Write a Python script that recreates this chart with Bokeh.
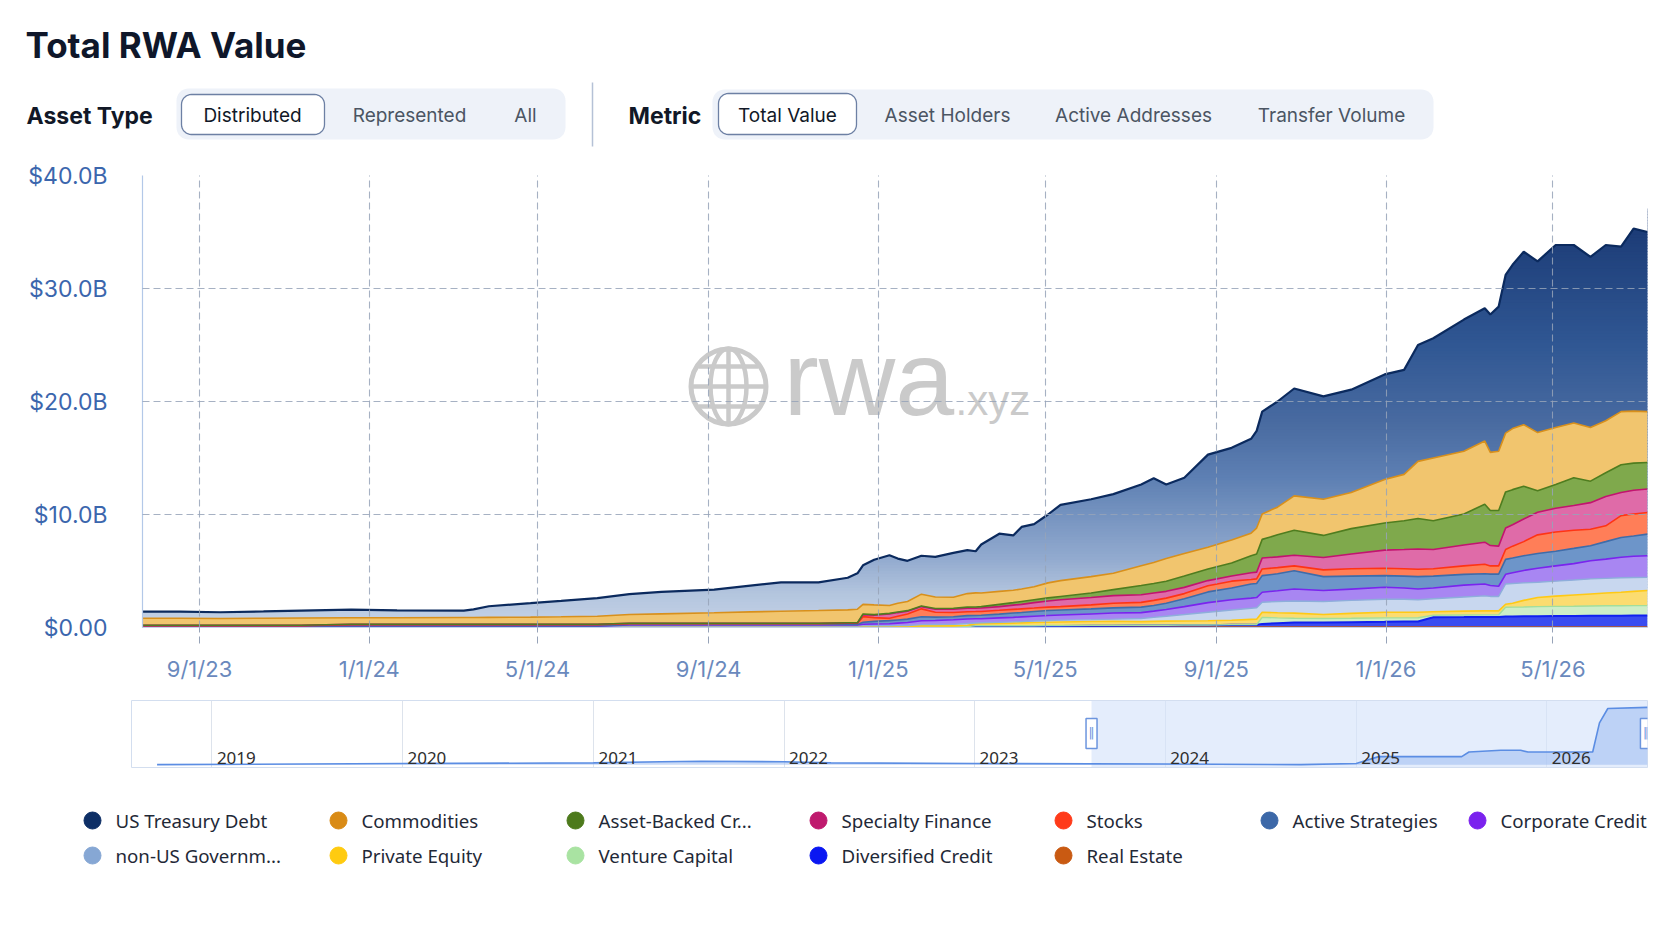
import numpy as np
import pandas as pd
from bokeh.plotting import figure
from bokeh.layouts import column
from bokeh.models import ColumnDataSource, Range1d, FixedTicker, BoxAnnotation, Grid
from bokeh.core.properties import value
from bokeh.embed import file_html
from bokeh.resources import INLINE

# ---------------- data ($B) ----------------
dates = [
    "2023-07-22", "2023-08-18", "2023-09-16", "2023-10-17", "2023-11-13", "2023-12-19",
    "2024-01-21", "2024-03-09", "2024-03-16", "2024-03-27", "2024-04-26", "2024-05-18",
    "2024-06-13", "2024-07-06", "2024-07-29", "2024-09-05", "2024-10-01", "2024-10-23",
    "2024-11-19", "2024-12-10", "2024-12-17", "2024-12-21", "2024-12-29", "2025-01-09",
    "2025-01-15", "2025-01-22", "2025-02-01", "2025-02-11", "2025-02-24", "2025-03-06",
    "2025-03-12", "2025-03-16", "2025-03-29", "2025-04-08", "2025-04-14", "2025-04-23",
    "2025-05-03", "2025-05-12", "2025-06-03", "2025-06-19", "2025-07-09", "2025-07-18",
    "2025-07-27", "2025-08-09", "2025-08-26", "2025-09-12", "2025-09-26", "2025-09-30",
    "2025-10-04", "2025-10-15", "2025-10-27", "2025-11-17", "2025-12-07", "2025-12-31",
    "2026-01-14", "2026-01-24", "2026-02-04", "2026-02-26", "2026-03-13", "2026-03-17",
    "2026-03-23", "2026-03-28", "2026-04-02", "2026-04-10", "2026-04-20", "2026-05-03",
    "2026-05-16", "2026-05-28", "2026-06-08", "2026-06-19", "2026-06-28", "2026-07-08",
]

series_names = ["US Treasury Debt", "Commodities", "Asset-Backed Credit", "Specialty Finance",
                "Stocks", "Active Strategies", "Corporate Credit", "non-US Government Debt",
                "Private Equity", "Venture Capital", "Diversified Credit", "Real Estate"]
legend_labels = ["US Treasury Debt", "Commodities", "Asset-Backed Cr...", "Specialty Finance",
                 "Stocks", "Active Strategies", "Corporate Credit", "non-US Governm...",
                 "Private Equity", "Venture Capital", "Diversified Credit", "Real Estate"]

us_treasury_debt = [
    0.59, 0.59, 0.55, 0.60, 0.66, 0.72, 0.66, 0.62, 0.72, 0.98,
    1.23, 1.40, 1.60, 1.80, 1.94, 2.05, 2.32, 2.56, 2.50, 2.84,
    3.18, 3.45, 4.00, 4.45, 3.95, 3.60, 3.40, 3.55, 3.92, 3.85,
    3.69, 4.30, 5.10, 4.85, 5.50, 5.55, 6.05, 6.70, 6.85, 7.00,
    7.18, 7.45, 6.55, 6.70, 8.20, 8.15, 8.35, 8.60, 9.05, 9.35,
    9.50, 9.10, 9.10, 9.30, 9.25, 10.30, 10.60, 11.65, 11.75, 12.20,
    12.80, 14.00, 14.50, 15.30, 15.15, 16.15, 15.75, 15.10, 15.55, 14.60, 16.15, 15.90]
commodities = [
    0.62, 0.62, 0.60, 0.62, 0.64, 0.57, 0.57, 0.59, 0.59, 0.61,
    0.63, 0.66, 0.71, 0.77, 0.83, 0.92, 1.00, 1.06, 1.12, 1.14,
    1.20, 0.86, 0.86, 0.70, 0.78, 0.81, 1.05, 1.02, 0.98, 1.20,
    1.24, 1.20, 1.15, 1.10, 1.10, 1.15, 1.33, 1.40, 1.45, 1.45,
    1.76, 1.85, 2.00, 2.00, 1.92, 2.05, 2.00, 2.30, 2.25, 2.45,
    3.05, 3.20, 3.20, 3.85, 4.10, 5.05, 5.55, 5.55, 5.60, 5.15,
    5.25, 5.20, 5.40, 5.45, 5.15, 5.05, 4.85, 4.75, 4.60, 4.70, 4.60, 4.50]
asset_backed_credit = [
    0.01, 0.01, 0.01, 0.01, 0.01, 0.01, 0.01, 0.01, 0.01, 0.01,
    0.01, 0.01, 0.01, 0.01, 0.01, 0.01, 0.01, 0.01, 0.01, 0.02,
    0.02, 0.05, 0.05, 0.05, 0.05, 0.05, 0.05, 0.06, 0.08, 0.10,
    0.11, 0.13, 0.20, 0.22, 0.25, 0.25, 0.27, 0.30, 0.40, 0.53,
    0.81, 0.85, 0.90, 1.00, 1.03, 1.15, 1.50, 1.60, 1.65, 1.95,
    2.20, 1.95, 2.25, 2.40, 2.55, 2.70, 2.55, 2.75, 3.35, 3.10,
    3.15, 3.20, 3.10, 2.90, 1.90, 2.10, 2.45, 1.90, 2.10, 2.45, 2.40, 2.35]
specialty_finance = [
    0.03, 0.03, 0.03, 0.03, 0.03, 0.03, 0.03, 0.03, 0.03, 0.03,
    0.03, 0.03, 0.03, 0.04, 0.04, 0.04, 0.04, 0.04, 0.04, 0.03,
    0.03, 0.18, 0.22, 0.39, 0.33, 0.25, 0.20, 0.27, 0.29, 0.30,
    0.30, 0.30, 0.33, 0.38, 0.40, 0.48, 0.55, 0.60, 0.65, 0.67,
    0.68, 0.65, 0.60, 0.55, 0.45, 0.45, 0.60, 0.60, 0.97, 0.95,
    0.95, 1.10, 1.30, 1.60, 1.70, 1.80, 1.70, 1.85, 1.95, 1.80,
    1.75, 1.90, 1.90, 2.00, 2.00, 2.10, 2.20, 2.35, 2.60, 2.05, 2.10, 2.07]
stocks = [
    0.02, 0.02, 0.02, 0.02, 0.02, 0.11, 0.11, 0.11, 0.11, 0.11,
    0.11, 0.11, 0.11, 0.07, 0.07, 0.07, 0.07, 0.07, 0.07, 0.10,
    0.10, 0.50, 0.33, 0.20, 0.32, 0.45, 0.70, 0.43, 0.38, 0.35,
    0.35, 0.34, 0.34, 0.32, 0.32, 0.30, 0.30, 0.30, 0.35, 0.41,
    0.42, 0.45, 0.45, 0.45, 0.55, 0.60, 0.40, 0.40, 0.59, 0.55,
    0.42, 0.60, 0.65, 0.66, 0.65, 0.65, 0.65, 0.75, 0.85, 0.73,
    0.73, 0.87, 1.05, 1.25, 1.65, 1.70, 1.60, 1.46, 1.40, 1.93, 1.95, 1.92]
active_strategies = [
    0.02, 0.02, 0.02, 0.02, 0.02, 0.02, 0.02, 0.02, 0.02, 0.02,
    0.02, 0.02, 0.02, 0.04, 0.04, 0.04, 0.04, 0.04, 0.04, 0.05,
    0.05, 0.17, 0.23, 0.28, 0.28, 0.30, 0.35, 0.30, 0.27, 0.30,
    0.29, 0.30, 0.33, 0.38, 0.39, 0.42, 0.44, 0.45, 0.45, 0.46,
    0.48, 0.50, 0.55, 0.70, 0.95, 1.05, 1.25, 1.25, 1.47, 1.50,
    1.62, 1.23, 1.15, 1.03, 1.05, 1.09, 1.05, 0.95, 0.90, 1.01,
    1.07, 1.32, 1.30, 1.30, 1.30, 1.30, 1.35, 1.33, 1.55, 1.76, 1.80, 1.91]
corporate_credit = [
    0.02, 0.02, 0.02, 0.02, 0.02, 0.02, 0.02, 0.02, 0.02, 0.02,
    0.02, 0.02, 0.02, 0.10, 0.10, 0.10, 0.10, 0.10, 0.10, 0.10,
    0.10, 0.15, 0.16, 0.17, 0.22, 0.26, 0.35, 0.36, 0.40, 0.40,
    0.37, 0.36, 0.39, 0.40, 0.41, 0.42, 0.44, 0.45, 0.50, 0.54,
    0.52, 0.55, 0.60, 0.70, 0.85, 0.90, 0.90, 0.90, 0.88, 0.95,
    1.06, 0.97, 1.00, 1.06, 1.00, 0.96, 0.95, 1.05, 1.05, 0.96,
    0.90, 0.86, 0.95, 1.10, 1.25, 1.35, 1.45, 1.61, 1.70, 1.81, 1.88, 1.91]
non_us_government_debt = [
    0.02, 0.02, 0.02, 0.02, 0.02, 0.02, 0.02, 0.02, 0.02, 0.02,
    0.02, 0.02, 0.02, 0.03, 0.03, 0.03, 0.03, 0.03, 0.03, 0.03,
    0.03, 0.05, 0.06, 0.07, 0.08, 0.09, 0.11, 0.12, 0.14, 0.15,
    0.08, 0.09, 0.10, 0.11, 0.12, 0.14, 0.15, 0.16, 0.17, 0.19,
    0.28, 0.36, 0.44, 0.57, 0.75, 0.91, 0.98, 1.01, 0.89, 1.00,
    1.08, 1.15, 1.15, 1.15, 1.15, 1.10, 1.15, 1.25, 1.33, 1.28,
    1.28, 1.79, 1.75, 1.55, 1.35, 1.32, 1.32, 1.33, 1.30, 1.28, 1.22, 1.17]
private_equity = [
    0.02, 0.02, 0.02, 0.02, 0.02, 0.02, 0.02, 0.02, 0.02, 0.02,
    0.02, 0.02, 0.02, 0.03, 0.03, 0.03, 0.03, 0.03, 0.03, 0.03,
    0.03, 0.03, 0.03, 0.03, 0.03, 0.03, 0.05, 0.05, 0.05, 0.11,
    0.17, 0.18, 0.20, 0.23, 0.25, 0.28, 0.29, 0.31, 0.34, 0.36,
    0.32, 0.34, 0.36, 0.36, 0.38, 0.39, 0.45, 0.47, 0.45, 0.45,
    0.45, 0.35, 0.43, 0.50, 0.50, 0.49, 0.32, 0.35, 0.35, 0.35,
    0.35, 0.27, 0.35, 0.58, 0.80, 0.91, 1.00, 1.07, 1.13, 1.19, 1.26, 1.33]
venture_capital = [
    0.01, 0.01, 0.01, 0.01, 0.01, 0.01, 0.01, 0.01, 0.01, 0.01,
    0.01, 0.01, 0.01, 0.01, 0.01, 0.01, 0.01, 0.01, 0.01, 0.01,
    0.01, 0.01, 0.01, 0.01, 0.01, 0.01, 0.02, 0.02, 0.02, 0.02,
    0.05, 0.05, 0.05, 0.05, 0.05, 0.05, 0.04, 0.04, 0.04, 0.04,
    0.03, 0.03, 0.03, 0.02, 0.02, 0.01, 0.02, 0.02, 0.58, 0.47,
    0.38, 0.35, 0.35, 0.35, 0.33, 0.33, 0.17, 0.18, 0.19, 0.19,
    0.19, 0.82, 0.82, 0.83, 0.85, 0.86, 0.86, 0.87, 0.88, 0.88, 0.88, 0.88]
diversified_credit = [
    0.02, 0.02, 0.02, 0.02, 0.02, 0.02, 0.02, 0.02, 0.02, 0.02,
    0.02, 0.02, 0.02, 0.02, 0.02, 0.02, 0.02, 0.02, 0.02, 0.02,
    0.02, 0.02, 0.02, 0.02, 0.02, 0.02, 0.04, 0.04, 0.04, 0.04,
    0.05, 0.05, 0.06, 0.06, 0.06, 0.06, 0.09, 0.09, 0.10, 0.10,
    0.12, 0.12, 0.12, 0.15, 0.15, 0.19, 0.20, 0.20, 0.27, 0.33,
    0.39, 0.40, 0.42, 0.45, 0.47, 0.48, 0.86, 0.87, 0.88, 0.88,
    0.88, 0.92, 0.93, 0.94, 0.95, 0.96, 0.97, 0.98, 0.99, 1.00, 1.01, 1.01]
real_estate = [0.03] * 30 + [0.05] * 42

y_ticks = [0, 10, 20, 30, 40]
y_tick_labels = ["$0.00", "$10.0B", "$20.0B", "$30.0B", "$40.0B"]
x_tick_dates = ["2023-09-01", "2024-01-01", "2024-05-01", "2024-09-01", "2025-01-01",
                "2025-05-01", "2025-09-01", "2026-01-01", "2026-05-01"]
x_tick_labels = ["9/1/23", "1/1/24", "5/1/24", "9/1/24", "1/1/25", "5/1/25", "9/1/25", "1/1/26", "5/1/26"]

# navigator (overview) series
nav_dates = ["2018-09-18", "2020-01-01", "2021-01-01", "2021-05-10", "2021-07-26", "2022-01-01",
             "2022-04-01", "2023-01-01", "2024-01-01", "2024-09-17", "2025-01-01", "2025-02-13",
             "2025-07-22", "2025-08-05", "2025-10-05", "2025-11-12", "2025-11-26", "2026-03-30",
             "2026-04-12", "2026-04-28", "2026-07-13"]
nav_values = [0.0, 0.02, 0.03, 0.05, 0.06, 0.05, 0.03, 0.02, 0.01, 0.0, 0.02, 0.14,
              0.14, 0.22, 0.25, 0.25, 0.22, 0.22, 0.73, 0.98, 1.0]
nav_year_dates = ["2019-01-01", "2020-01-01", "2021-01-01", "2022-01-01", "2023-01-01",
                  "2024-01-01", "2025-01-01", "2026-01-01"]
nav_year_labels = ["2019", "2020", "2021", "2022", "2023", "2024", "2025", "2026"]
selected_range = ["2023-08-13", "2026-07-10"]

asset_type_options = ["Distributed", "Represented", "All"]
metric_options = ["Total Value", "Asset Holders", "Active Addresses", "Transfer Volume"]

# ---------------- styles ----------------
W = 1672
FONT = "Inter"
series_colors = ["#0e2f66", "#d98b16", "#4d7a1c", "#bf1a6e", "#ff3b1a", "#3c68a8",
                 "#7b22ee", "#86a7d4", "#ffcb10", "#a9e3a2", "#0a17f2", "#c95a12"]
fill_colors = ["#2f5692", "#f1c56e", "#7fa94c", "#df6ba8", "#ff7e58", "#6d95c9",
               "#a886f2", "#c8d7ef", "#fbdc70", "#cdeec8", "#3a4cf0", "#d9823e"]
line_colors = ["#0b2a5e", "#d8901c", "#4f7d1f", "#c2146f", "#ff3414", "#3f6ca9",
               "#7a24ee", "#8eaedb", "#ffc915", "#a3de9c", "#1020f0", "#c55a15"]
line_widths = [2.2, 1.6, 1.6, 1.6, 1.6, 1.6, 1.6, 1.4, 1.6, 1.4, 2.0, 1.4]
GRID = "#97a3b8"

EPOCH = pd.Timestamp("1970-01-01")
DAY = 86400000.0


def to_ms(d):
    return float((pd.Timestamp(d) - EPOCH) / pd.Timedelta(milliseconds=1))


keys = ["ust", "com", "abc", "sf", "st", "act", "cc", "nug", "pe", "vc", "dc", "re"]
arrays = [us_treasury_debt, commodities, asset_backed_credit, specialty_finance, stocks,
          active_strategies, corporate_credit, non_us_government_debt, private_equity,
          venture_capital, diversified_credit, real_estate]
data = {"date": pd.to_datetime(dates)}
for k, arr in zip(keys, arrays):
    data[k] = arr
src = ColumnDataSource(data)

bottom_up = keys[::-1]
fills_bu = fill_colors[::-1]
lines_bu = line_colors[::-1]
widths_bu = line_widths[::-1]

# ---------------- main chart ----------------
X0, X1 = dates[0], dates[-1]
x0_ms, x1_ms = to_ms(X0), to_ms(X1)
p = figure(width=W, height=540, x_axis_type="datetime",
           x_range=Range1d(x0_ms, x1_ms), y_range=Range1d(0, 40),
           toolbar_location=None, output_backend="svg",
           min_border_left=142, min_border_right=25, min_border_top=25, min_border_bottom=63,
           background_fill_color="white", border_fill_color="white")
p.outline_line_color = None
p.frame_align = False

# vertical colour gradient used for the top (US Treasury) area
stops = [(0, "#c6d3e7"), (3, "#b3c5de"), (6, "#93abcf"), (13, "#5f81b4"), (18, "#496ba1"),
         (25, "#305793"), (35, "#1d3d78"), (40, "#17346c")]


def _rgb(h):
    return [int(h[i:i + 2], 16) for i in (1, 3, 5)]


def grad(v):
    for (v0, c0), (v1, c1) in zip(stops[:-1], stops[1:]):
        if v0 <= v <= v1:
            t = (v - v0) / (v1 - v0)
            a, b = _rgb(c0), _rgb(c1)
            return "#%02x%02x%02x" % tuple(int(round(a[i] + (b[i] - a[i]) * t)) for i in range(3))
    return stops[-1][1]


band_lo = np.arange(0, 37, 0.25)
p.quad(left=x0_ms - 5 * DAY, right=x1_ms + 5 * DAY, bottom=band_lo, top=band_lo + 0.32,
       fill_color=[grad(b + 0.125) for b in band_lo], line_color=None)

# stacked layers below the treasury layer
p.varea_stack(stackers=bottom_up[:-1], x="date", color=fills_bu[:-1], source=src)

# everything above the stacked total is white (polygon reaches past the frame edges)
total = np.sum(np.array(arrays, dtype=float), axis=0)
date_ms = [to_ms(d) for d in dates]
cover_x = [x0_ms - 20 * DAY] + date_ms + [x1_ms + 20 * DAY, x1_ms + 20 * DAY, x0_ms - 20 * DAY]
cover_y = [total[0]] + list(total) + [total[-1], 45, 45]
p.patch(cover_x, cover_y, fill_color="white", line_color=None)

# watermark
PXD = (1647 - 142) / ((x1_ms - x0_ms) / DAY)


def mx(px):
    return x0_ms + (px - 142) / PXD * DAY


def my(py):
    return (627 - py) * 40.0 / 452.0


WM = "#cacaca"
gx, gy = mx(728), my(386)
p.scatter([gx], [gy], marker="circle", size=75, fill_color=None, line_color=WM, line_width=5)
p.ellipse([gx], [gy], width=36, height=76, width_units="screen", height_units="screen",
          fill_color=None, line_color=WM, line_width=4.5)
p.scatter([gx], [gy], marker="dash", size=76, angle=np.pi / 2, line_color=WM, line_width=4.5)
p.scatter([gx, gx, gx], [my(366), gy, my(406)], marker="dash", size=[60, 76, 60],
          line_color=WM, line_width=4.5)
p.text(x=[mx(783)], y=[my(377)], text=["rwa"], text_font=value("Liberation Sans"),
       text_font_size="106px", text_color=WM, text_baseline="middle", text_align="left")
p.text(x=[mx(955)], y=[my(400)], text=[".xyz"], text_font=value("Liberation Sans"),
       text_font_size="42px", text_color=WM, text_baseline="middle", text_align="left")

# top lines of each layer
p.vline_stack(stackers=bottom_up, x="date", color=lines_bu, line_width=widths_bu, source=src)

# axes & grid
x_tick_ms = [to_ms(d) for d in x_tick_dates]
p.xaxis.ticker = FixedTicker(ticks=x_tick_ms, minor_ticks=[])
p.xaxis.major_label_overrides = {t: l for t, l in zip(x_tick_ms, x_tick_labels)}
p.yaxis.ticker = FixedTicker(ticks=y_ticks, minor_ticks=[])
p.yaxis.major_label_overrides = {t: l for t, l in zip(y_ticks, y_tick_labels)}

for g in (p.xgrid, p.ygrid):
    g.grid_line_color = GRID
    g.grid_line_dash = "7 4"
    g.grid_line_width = 1.1
    g.grid_line_alpha = 0.85
    g.level = "overlay"

p.xaxis.axis_line_color = "#c5d3ea"
p.xaxis.major_tick_out = 16
p.xaxis.major_tick_in = 0
p.xaxis.major_tick_line_color = GRID
p.xaxis.major_tick_line_dash = "7 4"
p.xaxis.minor_tick_line_color = None
p.xaxis.major_label_standoff = 12
p.xaxis.major_label_text_font = FONT
p.xaxis.major_label_text_font_size = "22px"
p.xaxis.major_label_text_color = "#6a89bd"

p.yaxis.axis_line_color = "#b3c8e8"
p.yaxis.axis_line_width = 1.2
p.yaxis.major_tick_out = 0
p.yaxis.major_tick_in = 0
p.yaxis.minor_tick_line_color = None
p.yaxis.major_tick_line_color = None
p.yaxis.major_label_standoff = 35
p.yaxis.major_label_text_font = FONT
p.yaxis.major_label_text_font_size = "23px"
p.yaxis.major_label_text_color = "#3b66ad"

# ---------------- navigator ----------------
N0, N1 = "2018-07-31", "2026-07-13"
nav = figure(width=W, height=85, x_axis_type="datetime",
             x_range=Range1d(to_ms(N0), to_ms(N1)), y_range=Range1d(-0.05, 1.12),
             toolbar_location=None, output_backend="svg",
             min_border_left=131, min_border_right=25, min_border_top=10, min_border_bottom=8,
             x_axis_location=None, y_axis_location=None,
             background_fill_color="white", border_fill_color="white")
nav.frame_align = False
nav.grid.visible = False
nav.outline_line_color = "#d3deef"
year_ms = [to_ms(d) for d in nav_year_dates]
nav.add_layout(Grid(dimension=0, ticker=FixedTicker(ticks=year_ms), grid_line_color="#dde3ec",
                    grid_line_width=1))
nav.add_layout(BoxAnnotation(left=to_ms(selected_range[0]), right=to_ms(N1),
                             fill_color="#d6e4fa", fill_alpha=0.65, line_color=None,
                             level="underlay"))
nav_ms = [to_ms(d) for d in nav_dates]
nav.varea(x=nav_ms, y1=0, y2=nav_values, fill_color="#9dbcf0", fill_alpha=0.55)
nav.line(x=nav_ms, y=nav_values, line_color="#5b8de3", line_width=1.6)
nav.text(x=year_ms, y=[-0.05] * len(year_ms), text=nav_year_labels, x_offset=5, y_offset=-4,
         text_baseline="bottom", text_align="left", text_font=value("Noto Sans"),
         text_font_size="17px", text_color="#2e2e2e")
hx = [to_ms(selected_range[0]), to_ms(selected_range[1])]
nav.rect(x=hx, y=[0.544, 0.544], width=11, height=30, width_units="screen",
         height_units="screen", fill_color="white", line_color="#6c95de", line_width=1.5)
nav.text(x=hx, y=[0.544, 0.544], text=["\u2016", "\u2016"], text_align="center",
         text_baseline="middle", text_font=value("DejaVu Sans"), text_font_size="12px",
         text_color="#6c95de")

# ---------------- header (pixel coordinates, y downwards) ----------------
hdr = figure(width=W, height=150, x_range=Range1d(0, W), y_range=Range1d(150, 0),
             toolbar_location=None, output_backend="svg", min_border=0,
             x_axis_location=None, y_axis_location=None,
             background_fill_color="white", border_fill_color="white")
hdr.frame_align = False
hdr.grid.visible = False
hdr.outline_line_color = None


def rrect(x0, y0, x1, y1, r, n=9):
    xs, ys = [], []
    for cx, cy, a0, a1 in [(x1 - r, y0 + r, -90, 0), (x1 - r, y1 - r, 0, 90),
                           (x0 + r, y1 - r, 90, 180), (x0 + r, y0 + r, 180, 270)]:
        for t in np.linspace(np.radians(a0), np.radians(a1), n):
            xs.append(cx + r * np.cos(t))
            ys.append(cy + r * np.sin(t))
    return xs, ys


for (bx0, by0, bx1, by1) in [(176, 88, 565, 139), (712, 89, 1433, 139)]:
    xs, ys = rrect(bx0, by0, bx1, by1, 12)
    hdr.patch(xs, ys, fill_color="#eef2f9", line_color=None)
for (bx0, by0, bx1, by1) in [(181, 94, 324, 134), (718, 93, 856, 134)]:
    xs, ys = rrect(bx0, by0, bx1, by1, 10)
    hdr.patch(xs, ys, fill_color="white", line_color="#6d80a4", line_width=1.3)

hdr.text(x=[25], y=[44], text=["Total RWA Value"], text_font=value(FONT),
         text_font_size="35px", text_font_style="bold", text_color="#0f172a",
         text_baseline="middle")
hdr.text(x=[26, 628], y=[115, 115], text=["Asset Type", "Metric"], text_font=value(FONT),
         text_font_size="23px", text_font_style="bold", text_color="#111827",
         text_baseline="middle")
hdr.text(x=[252, 409, 525], y=[115] * 3, text=asset_type_options, text_font=value(FONT),
         text_font_size="19px", text_align="center", text_baseline="middle",
         text_color=["#111827", "#4b5563", "#4b5563"])
hdr.text(x=[787, 947, 1133, 1331], y=[115] * 4, text=metric_options, text_font=value(FONT),
         text_font_size="19px", text_align="center", text_baseline="middle",
         text_color=["#111827", "#4b5563", "#4b5563", "#4b5563"])
hdr.segment(x0=[592], y0=[82], x1=[592], y1=[146], line_color="#b5c1d6", line_width=1.5)

# ---------------- legend (pixel coordinates, y downwards) ----------------
lg = figure(width=W, height=160, x_range=Range1d(0, W), y_range=Range1d(160, 0),
            toolbar_location=None, output_backend="svg", min_border=0,
            x_axis_location=None, y_axis_location=None,
            background_fill_color="white", border_fill_color="white")
lg.frame_align = False
lg.grid.visible = False
lg.outline_line_color = None
col_x = [92, 338, 575, 818, 1063, 1269, 1477]
row_y = [45, 80]
dot_x = [col_x[i % 7] for i in range(len(series_names))]
dot_y = [row_y[i // 7] for i in range(len(series_names))]
lg.scatter(x=dot_x, y=dot_y, marker="circle", size=17, fill_color=series_colors,
           line_color=series_colors)
lg.text(x=[x + 23 for x in dot_x], y=dot_y, text=legend_labels, text_font=value("Noto Sans"),
        text_font_size="18.7px", text_color="#1f2937", text_baseline="middle", text_align="left")

layout = column(hdr, p, nav, lg, spacing=0)
open("out.html", "w").write(file_html(layout, INLINE, title="Total RWA Value"))
